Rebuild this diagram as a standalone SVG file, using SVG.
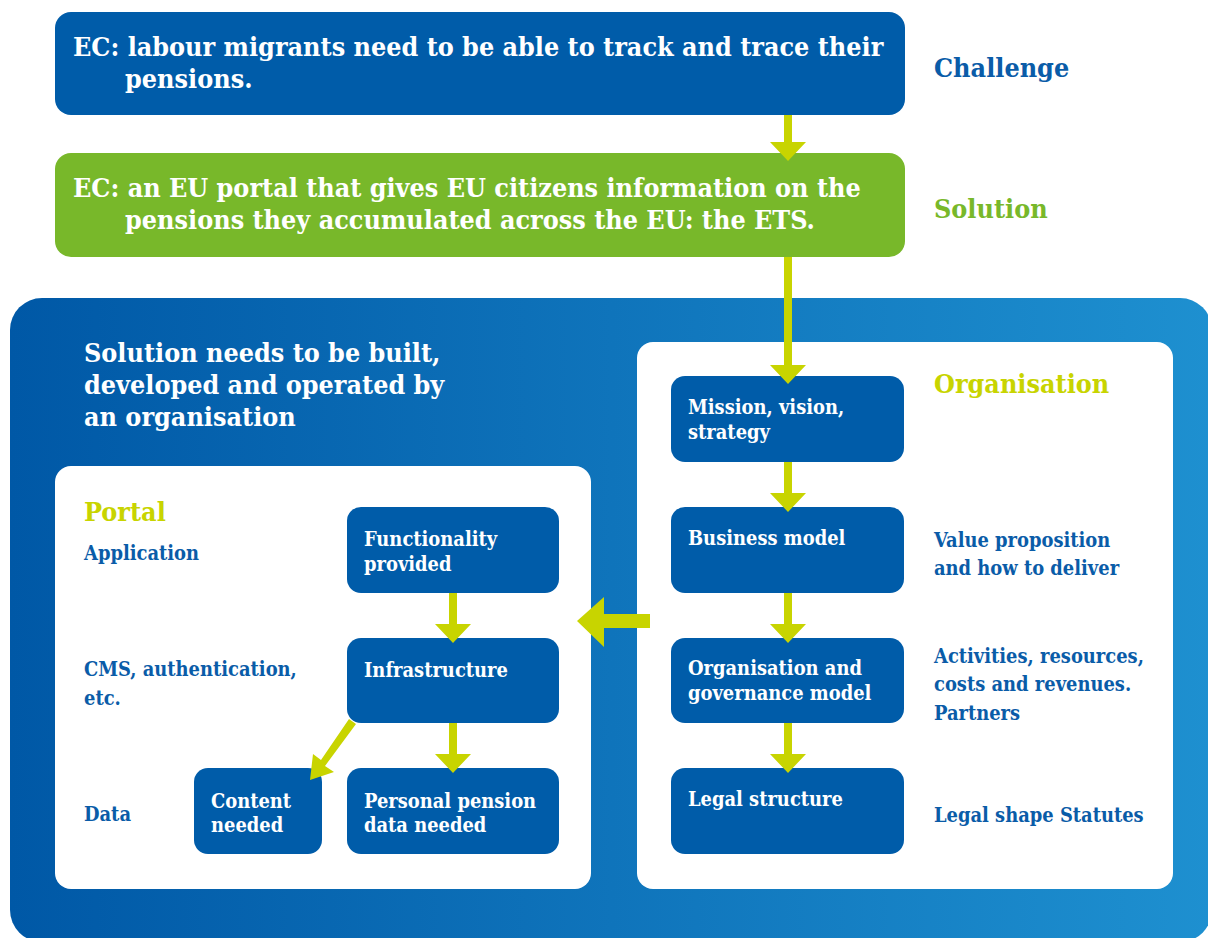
<svg xmlns="http://www.w3.org/2000/svg" width="1208" height="938" viewBox="0 0 1208 938">
<defs>
<linearGradient id="bg" x1="0" y1="0" x2="1" y2="0">
<stop offset="0" stop-color="#0058a6"/>
<stop offset="1" stop-color="#1e90d0"/>
</linearGradient>
<style>
text{font-family:"DejaVu Serif Condensed","DejaVu Serif",serif;font-weight:bold;}
.big{font-size:26.7px;}
.sm{font-size:19.9px;}
.w{fill:#ffffff;}
.b{fill:#0a5ca8;}
.y{fill:#c8d400;}
.g{fill:#78b82a;}
.box{fill:#005ca9;}
.arr{fill:#c8d400;}
</style>
</defs>
<rect x="10" y="298" width="1202" height="644" rx="32" fill="url(#bg)"/>
<rect x="55" y="466" width="536" height="423" rx="16" fill="#fff"/>
<rect x="637" y="342" width="536" height="547" rx="16" fill="#fff"/>

<g id="challenge">
<rect x="55" y="12" width="850" height="103" rx="16" class="box"/>
<text x="73" y="56" class="big w">EC: labour migrants need to be able to track and trace their</text>
<text x="125" y="88" class="big w">pensions.</text>
</g>
<text x="934" y="77" class="big b">Challenge</text>

<g id="solution">
<rect x="55" y="153" width="850" height="104" rx="16" fill="#78b82a"/>
<text x="73" y="197" class="big w">EC: an EU portal that gives EU citizens information on the</text>
<text x="125" y="229" class="big w">pensions they accumulated across the EU: the ETS.</text>
</g>
<text x="934" y="218" class="big g">Solution</text>

<g id="intro">
<text x="84" y="362" class="big w">Solution needs to be built,</text>
<text x="84" y="394" class="big w">developed and operated by</text>
<text x="84" y="426" class="big w">an organisation</text>
</g>

<g id="portal-labels">
<text x="84" y="521" class="big y">Portal</text>
<text x="84" y="560" class="sm b">Application</text>
<text x="84" y="676" class="sm b">CMS, authentication,</text>
<text x="84" y="705" class="sm b">etc.</text>
<text x="84" y="821" class="sm b">Data</text>
</g>

<g id="functionality">
<rect x="347" y="507" width="212" height="86" rx="14" class="box"/>
<text x="364" y="546" class="sm w">Functionality</text>
<text x="364" y="571" class="sm w">provided</text>
</g>
<g id="infrastructure">
<rect x="347" y="638" width="212" height="85" rx="14" class="box"/>
<text x="364" y="677" class="sm w">Infrastructure</text>
</g>
<g id="content">
<rect x="194" y="768" width="128" height="86" rx="14" class="box"/>
<text x="211" y="808" class="sm w">Content</text>
<text x="211" y="832" class="sm w">needed</text>
</g>
<g id="personal">
<rect x="347" y="768" width="212" height="86" rx="14" class="box"/>
<text x="364" y="808" class="sm w">Personal pension</text>
<text x="364" y="832" class="sm w">data needed</text>
</g>

<g id="org-labels">
<text x="934" y="393" class="big y">Organisation</text>
<text x="934" y="547" class="sm b">Value proposition</text>
<text x="934" y="575" class="sm b">and how to deliver</text>
<text x="934" y="663" class="sm b">Activities, resources,</text>
<text x="934" y="691" class="sm b">costs and revenues.</text>
<text x="934" y="720" class="sm b">Partners</text>
<text x="934" y="822" class="sm b">Legal shape Statutes</text>
</g>

<g id="mission">
<rect x="671" y="376" width="233" height="86" rx="14" class="box"/>
<text x="688" y="414" class="sm w">Mission, vision,</text>
<text x="688" y="439" class="sm w">strategy</text>
</g>
<g id="business">
<rect x="671" y="507" width="233" height="86" rx="14" class="box"/>
<text x="688" y="545" class="sm w">Business model</text>
</g>
<g id="governance">
<rect x="671" y="638" width="233" height="85" rx="14" class="box"/>
<text x="688" y="675" class="sm w">Organisation and</text>
<text x="688" y="700" class="sm w">governance model</text>
</g>
<g id="legal">
<rect x="671" y="768" width="233" height="86" rx="14" class="box"/>
<text x="688" y="806" class="sm w">Legal structure</text>
</g>

<g id="connectors">
<polygon class="arr" points="784,115 792,115 792,142 806,142 788,161 770,142 784,142"/>
<polygon class="arr" points="784,257 792,257 792,365 806,365 788,384 770,365 784,365"/>
<polygon class="arr" points="784,462 792,462 792,493 806,493 788,512 770,493 784,493"/>
<polygon class="arr" points="784,593 792,593 792,624 806,624 788,643 770,624 784,624"/>
<polygon class="arr" points="784,723 792,723 792,754 806,754 788,773 770,754 784,754"/>
<polygon class="arr" points="449,593 457,593 457,624 471,624 453,643 435,624 449,624"/>
<polygon class="arr" points="449,723 457,723 457,754 471,754 453,773 435,754 449,754"/>
<polygon class="arr" points="650,614 650,628 604,628 604,647 577,621 604,597 604,614"/>
<polygon class="arr" points="349,719 356,724 325,766 334,772 310,780 313,754 321,760"/>
</g>
</svg>
